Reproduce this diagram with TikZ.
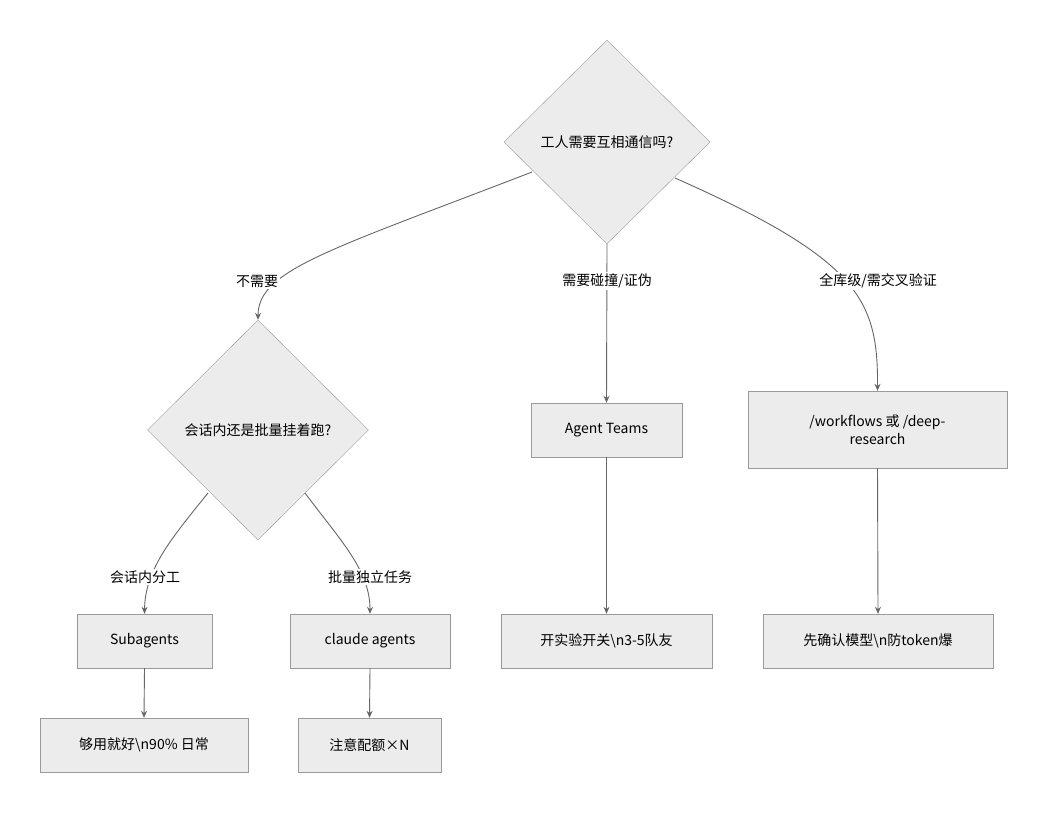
\documentclass[tikz,border=0pt]{standalone}
\usepackage{fontspec}
\setmainfont{Noto Sans CJK SC}
\usetikzlibrary{shapes.geometric,arrows.meta}
\definecolor{fillc}{HTML}{ECECEC}
\definecolor{linec}{HTML}{9A9A9A}
\definecolor{edgec}{HTML}{666666}
\begin{document}
\begin{tikzpicture}[x=1pt,y=-1pt,
  box/.style={draw=linec,fill=fillc,minimum height=54pt,inner sep=0pt,font=\fontsize{14}{18}\selectfont,align=center},
  dia/.style={draw=linec,fill=fillc,diamond,inner sep=0pt,font=\fontsize{14}{18}\selectfont},
  lab/.style={fill=white,inner sep=2pt,font=\fontsize{14}{18}\selectfont},
  e/.style={draw=edgec,line width=0.9pt,-{Stealth[length=7pt,width=6pt]}}]
\useasboundingbox (0,0) rectangle (1048,813);
\node[dia,minimum width=206pt,minimum height=204pt] (d1) at (607,142) {工人需要互相通信吗?};
\node[dia,minimum width=221pt,minimum height=220pt] (d2) at (258,430) {会话内还是批量挂着跑?};
\node[box,minimum width=151pt] (at) at (606.5,430) {Agent Teams};
\node[box,minimum width=259pt,minimum height=77pt] (wf) at (877.5,429.5) {/workflows 或 /deep-\\research};
\node[box,minimum width=135pt] (sa) at (144.5,641) {Subagents};
\node[box,minimum width=160pt] (ca) at (370,641) {claude agents};
\node[box,minimum width=211pt] (kf) at (606.5,641) {开实验开关\textbackslash n3-5队友};
\node[box,minimum width=230pt] (xq) at (878,641) {先确认模型\textbackslash n防token爆};
\node[box,minimum width=208pt] (gy) at (144,745) {够用就好\textbackslash n90\% 日常};
\node[box,minimum width=143pt] (zy) at (369.5,745) {注意配额×N};
\coordinate (a1) at (532,172);
\coordinate (a2) at (675,178);
\coordinate (b1) at (208,493);
\coordinate (b2) at (305,493);
\draw[e] (a1) .. controls (330,250) and (258,270) .. (d2.north);
\draw[e] (d1.south) -- (at.north);
\draw[e] (a2) .. controls (860,260) and (878,300) .. (wf.north);
\draw[e] (b1) .. controls (170,540) and (145,570) .. (sa.north);
\draw[e] (b2) .. controls (340,540) and (370,570) .. (ca.north);
\draw[e] (at.south) -- (kf.north);
\draw[e] (wf.south) -- (xq.north);
\draw[e] (sa.south) -- (gy.north);
\draw[e] (ca.south) -- (zy.north);
\node[lab] (l1) at (257,281) {不需要};
\node[lab] (l2) at (607,281) {需要碰撞/证伪};
\node[lab] (l3) at (878,281) {全库级/需交叉验证};
\node[lab] (l4) at (145,577) {会话内分工};
\node[lab] (l5) at (370,577) {批量独立任务};
\end{tikzpicture}
\end{document}
